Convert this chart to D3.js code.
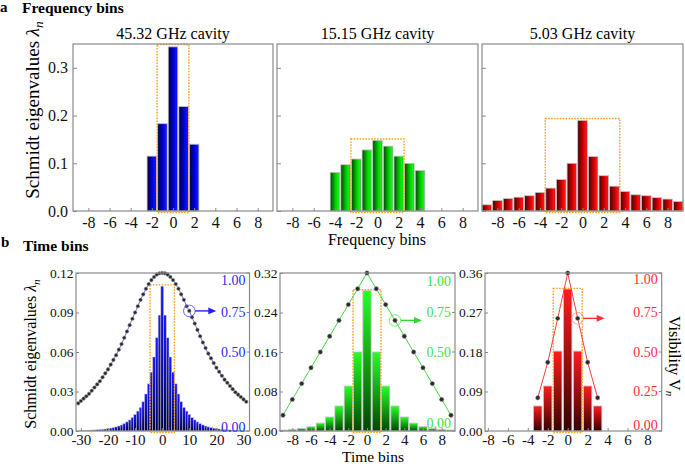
<!DOCTYPE html>
<html>
<head>
<meta charset="utf-8">
<script src="https://cdn.jsdelivr.net/npm/d3@7"></script>
<style>
  body { margin: 0; background: #fff; }
  svg text { font-family: "Liberation Serif", "Times New Roman", serif; }
</style>
</head>
<body>
<svg id="fig" width="685" height="464"></svg>
<script>
// ---- panel a: frequency bins ----
var cavities = ["45.32 GHz cavity", "15.15 GHz cavity", "5.03 GHz cavity"];
var freqTicks = [-8, -6, -4, -2, 0, 2, 4, 6, 8];
var freqYTicks = [0, 0.1, 0.2, 0.3];

var bins45 = [-2, -1, 0, 1, 2];
var eig45 = [0.115, 0.183, 0.344, 0.219, 0.140];
var bins15 = [-4, -3, -2, -1, 0, 1, 2, 3, 4];
var eig15 = [0.081, 0.097, 0.109, 0.128, 0.148, 0.136, 0.115, 0.100, 0.085];
var bins5 = [-9, -8, -7, -6, -5, -4, -3, -2, -1, 0, 1, 2, 3, 4, 5, 6, 7, 8, 9];
var eig5 = [0.013, 0.022, 0.026, 0.029, 0.032, 0.039, 0.048, 0.066, 0.100, 0.190,
            0.114, 0.074, 0.052, 0.041, 0.034, 0.032, 0.028, 0.025, 0.020];
// selected window: [from bin, to bin, top]
var freqBoxes = [[-1.5, 1.5, 0.349], [-2.5, 2.5, 0.151], [-3.5, 3.5, 0.194]];

// ---- panel b: time bins ----
var tBins1 = [-30, -29, -28, -27, -26, -25, -24, -23, -22, -21, -20, -19, -18, -17, -16, -15, -14, -13, -12, -11,
              -10, -9, -8, -7, -6, -5, -4, -3, -2, -1, 0, 1, 2, 3, 4, 5, 6, 7, 8, 9, 10,
              11, 12, 13, 14, 15, 16, 17, 18, 19, 20, 21, 22, 23, 24, 25, 26, 27, 28, 29, 30];
var tEig1 = [0.0004, 0.0004, 0.0005, 0.0006, 0.0007, 0.0008, 0.0009, 0.0011, 0.0013, 0.0015,
             0.0018, 0.0022, 0.0026, 0.0031, 0.0038, 0.0046, 0.0056, 0.0069, 0.0084, 0.0102,
             0.0125, 0.0151, 0.0179, 0.0222, 0.0281, 0.0358, 0.0447, 0.0562, 0.0708, 0.0880,
             0.1100,
             0.0880, 0.0708, 0.0562, 0.0447, 0.0358, 0.0281, 0.0222, 0.0179, 0.0151, 0.0125,
             0.0102, 0.0084, 0.0069, 0.0056, 0.0046, 0.0038, 0.0031, 0.0026, 0.0022, 0.0018,
             0.0015, 0.0013, 0.0011, 0.0009, 0.0008, 0.0007, 0.0006, 0.0005, 0.0004, 0.0004];
var vBins1 = [-31].concat(tBins1, [31]);
var vis1 = [0.175, 0.19, 0.205, 0.22, 0.235, 0.255, 0.275, 0.295, 0.315, 0.34, 0.365,
            0.39, 0.42, 0.45, 0.48, 0.515, 0.55, 0.59, 0.63, 0.67, 0.71,
            0.75, 0.79, 0.83, 0.865, 0.90, 0.93, 0.955, 0.975, 0.99, 0.998,
            1.00,
            0.998, 0.99, 0.975, 0.955, 0.93, 0.90, 0.865, 0.83, 0.79, 0.76,
            0.72, 0.68, 0.64, 0.60, 0.56, 0.525, 0.49, 0.46, 0.43, 0.40,
            0.375, 0.35, 0.325, 0.305, 0.285, 0.265, 0.245, 0.23, 0.215, 0.20, 0.185];

var tBins2 = [-9, -8, -7, -6, -5, -4, -3, -2, -1, 0, 1, 2, 3, 4, 5, 6, 7, 8, 9];
var tEig2 = [0.002, 0.0034, 0.0054, 0.0088, 0.016, 0.0284, 0.0507, 0.091, 0.160, 0.284,
             0.160, 0.091, 0.0507, 0.0284, 0.016, 0.0088, 0.0054, 0.0034, 0.002];
var vis2 = [0.10, 0.20, 0.30, 0.40, 0.50, 0.60, 0.70, 0.80, 0.90, 1.00,
            0.90, 0.80, 0.70, 0.60, 0.50, 0.40, 0.30, 0.20, 0.10];

var tBins3 = [-3, -2, -1, 0, 1, 2, 3];
var tEig3 = [0.057, 0.1025, 0.182, 0.3235, 0.182, 0.1025, 0.057];
var vis3 = [0.21, 0.435, 0.713, 1.00, 0.713, 0.435, 0.21];

var timeXTicks = [[-30, -20, -10, 0, 10, 20, 30], freqTicks, freqTicks];
var timeYTicks = [[0, 0.03, 0.06, 0.09, 0.12], [0, 0.08, 0.16, 0.24, 0.32], [0, 0.09, 0.18, 0.27, 0.36]];
var visTicks = [[0, 0.5, 0.75, 1], [0, 0.5, 0.75, 1], [0, 0.25, 0.5, 0.75, 1]];
var timeBoxes = [[-4.5, 4.5, 0.111], [-1.5, 1.5, 0.286], [-1.45, 1.45, 0.325]];
var markBins = [10, 3, 1];   // circled points

// ---- drawing ----
var serif = "Liberation Serif, Times New Roman, serif";
var svg = d3.select("#fig").attr("font-family", serif);
var defs = svg.append("defs");

function hGrad(id, c0, c1, c2, c3) {
  var g = defs.append("linearGradient").attr("id", id)
    .attr("x1", 0).attr("x2", 1).attr("y1", 0).attr("y2", 0);
  [[0, c0], [0.55, c1], [0.85, c2], [1, c3]].forEach(function(s) {
    g.append("stop").attr("offset", s[0]).attr("stop-color", s[1]);
  });
}
function vGrad(id, top, bottom) {
  var g = defs.append("linearGradient").attr("id", id)
    .attr("x1", 0).attr("x2", 0).attr("y1", 0).attr("y2", 1);
  g.append("stop").attr("offset", 0).attr("stop-color", top);
  g.append("stop").attr("offset", 1).attr("stop-color", bottom);
}
hGrad("gbH", "#000040", "#0000d4", "#1414ff", "#0606c4");
hGrad("ggH", "#004400", "#00cc00", "#16f016", "#00b000");
hGrad("grH", "#4a0000", "#cc0000", "#ff1414", "#c00000");
vGrad("gbV", "#1a1aff", "#00004a");
vGrad("ggV", "#26ff26", "#004600");
vGrad("grV", "#ff1c1c", "#360000");

var frameColor = "#8a8a8a",
    boxColor = "#f7a21b";

function styleAxis(g, size) {
  g.attr("font-family", serif).attr("font-size", size);
  g.select(".domain").remove();
  g.selectAll(".tick line").attr("stroke", frameColor);
  g.selectAll(".tick text").attr("fill", "#111");
}

function drawBox(g, x, y, b) {
  g.append("rect")
    .attr("x", x(b[0])).attr("y", y(b[2]))
    .attr("width", x(b[1]) - x(b[0]))
    .attr("height", y(0) - y(b[2]) + 1.5)
    .attr("fill", "none").attr("stroke", boxColor)
    .attr("stroke-width", 1.4).attr("stroke-dasharray", "1.6,1.3");
}

function drawFrame(g, x0, x1, y0, y1) {
  g.append("rect").attr("x", x0).attr("y", y0)
    .attr("width", x1 - x0).attr("height", y1 - y0)
    .attr("fill", "none").attr("stroke", frameColor).attr("stroke-width", 1.2);
}

// panel a
var aTop = 44, aBot = 211;
var aFrames = [[73, 273], [277, 478], [482, 683]];
var aY = d3.scaleLinear().domain([0, 0.35]).range([aBot, aTop]);
var aSeries = [
  {bins: bins45, vals: eig45, grad: "gbH"},
  {bins: bins15, vals: eig15, grad: "ggH"},
  {bins: bins5, vals: eig5, grad: "grH"}
];

aSeries.forEach(function(s, i) {
  var x = d3.scaleLinear().domain([-9.45, 9.45]).range(aFrames[i]);
  var g = svg.append("g");
  var bw = x(0.9) - x(0);

  g.selectAll(".bar")
    .data(s.bins.map(function(n, j) { return {n: n, v: s.vals[j]}; }))
    .enter().append("rect")
      .attr("class", "bar")
      .attr("x", function(d) { return x(d.n) - bw / 2; })
      .attr("width", bw)
      .attr("y", function(d) { return aY(d.v); })
      .attr("height", function(d) { return aY(0) - aY(d.v); })
      .attr("fill", "url(#" + s.grad + ")")
      .attr("stroke", "#c4c4c4").attr("stroke-width", 0.8);

  drawBox(g, x, aY, freqBoxes[i]);
  drawFrame(g, aFrames[i][0], aFrames[i][1], aTop, aBot);

  g.append("g").attr("transform", "translate(0," + aBot + ")")
    .call(d3.axisBottom(x).tickValues(freqTicks).tickSize(-3).tickPadding(6)
      .tickFormat(function(d) { return String(d); }))
    .call(styleAxis, 16);

  g.append("g").attr("transform", "translate(" + aFrames[i][0] + ",0)")
    .call(d3.axisLeft(aY).tickValues(freqYTicks).tickSize(-4).tickPadding(5)
      .tickFormat(i === 0 ? d3.format(".1f") : ""))
    .call(styleAxis, 16);

  g.append("text")
    .attr("x", (aFrames[i][0] + aFrames[i][1]) / 2).attr("y", 39)
    .attr("text-anchor", "middle").attr("font-size", 16)
    .text(cavities[i]);
});

// panel b
var bTop = 273, bBot = 431;
var bFrames = [[76, 249.5], [280, 455], [485, 661.7]];
var bXDomains = [[-31.8, 32.2], [-9.32, 9.43], [-8.29, 9.42]];
var bYMax = [0.12, 0.32, 0.36];
var bBarW = [1, 0.88, 0.84];
var dotR = [1.8, 2.2, 2.2];
var visY = d3.scaleLinear().domain([0, 1]).range([bBot, bTop]);
// label centres of the end ticks are pulled inside the frame
var bSeries = [
  {bins: tBins1, vals: tEig1, vbins: vBins1, vis: vis1, grad: "gbV",
   line: "#7272ff", label: "#2b2bff", ring: "#5858ff", arrow: "#1f1fff", nudge: [7.7, -4]},
  {bins: tBins2, vals: tEig2, vbins: tBins2, vis: vis2, grad: "ggV",
   line: "#3fdc3f", label: "#3ee43e", ring: "#6fe86f", arrow: "#30d830", nudge: [8.7, -7.7]},
  {bins: tBins3, vals: tEig3, vbins: tBins3, vis: vis3, grad: "grV",
   line: "#ff3d3d", label: "#ff2e2e", ring: "#ff8c8c", arrow: "#ff3030", nudge: [6.3, -6]}
];

bSeries.forEach(function(s, i) {
  var fr = bFrames[i];
  var x = d3.scaleLinear().domain(bXDomains[i]).range(fr);
  var y = d3.scaleLinear().domain([0, bYMax[i]]).range([bBot, bTop]);
  var g = svg.append("g");
  var bw = x(bBarW[i]) - x(0);

  g.selectAll(".bar")
    .data(s.bins.map(function(n, j) { return {n: n, v: s.vals[j]}; }))
    .enter().append("rect")
      .attr("class", "bar")
      .attr("x", function(d) { return x(d.n) - bw / 2; })
      .attr("width", bw)
      .attr("y", function(d) { return y(d.v); })
      .attr("height", function(d) { return y(0) - y(d.v); })
      .attr("fill", "url(#" + s.grad + ")")
      .attr("stroke", "#c4c4c4").attr("stroke-width", i === 0 ? 0.5 : 0.8);

  drawBox(g, x, y, timeBoxes[i]);

  var pts = s.vbins.map(function(n, j) { return [n, s.vis[j]]; });
  g.append("path")
    .datum(pts)
    .attr("d", d3.line().x(function(d) { return x(d[0]); }).y(function(d) { return visY(d[1]); }))
    .attr("fill", "none").attr("stroke", s.line).attr("stroke-width", 1);
  g.selectAll(".dot")
    .data(pts)
    .enter().append("circle")
      .attr("class", "dot")
      .attr("cx", function(d) { return x(d[0]); })
      .attr("cy", function(d) { return visY(d[1]); })
      .attr("r", dotR[i])
      .attr("fill", "#2a2a2a").attr("stroke", "#9a9a9a").attr("stroke-width", 0.5);

  // circled point with arrow to the right axis
  var mi = s.vbins.indexOf(markBins[i]);
  var cx = x(markBins[i]), cy = visY(s.vis[mi]);
  g.append("circle").attr("cx", cx).attr("cy", cy).attr("r", 5.8)
    .attr("fill", "none").attr("stroke", s.ring).attr("stroke-width", 0.9);
  g.append("line").attr("x1", cx + 5.8).attr("x2", cx + 21).attr("y1", cy).attr("y2", cy)
    .attr("stroke", s.arrow).attr("stroke-width", 1.4);
  g.append("path")
    .attr("d", "M" + (cx + 27) + "," + cy + "L" + (cx + 19) + "," + (cy - 3.3) + "L" + (cx + 19) + "," + (cy + 3.3) + "Z")
    .attr("fill", s.arrow);

  drawFrame(g, fr[0], fr[1], bTop, bBot);

  g.append("g").attr("transform", "translate(0," + bBot + ")")
    .call(d3.axisBottom(x).tickValues(timeXTicks[i]).tickSize(-3).tickPadding(3.5)
      .tickFormat(function(d) { return String(d); }))
    .call(styleAxis, 15);

  g.append("g").attr("transform", "translate(" + fr[0] + ",0)")
    .call(d3.axisLeft(y).tickValues(timeYTicks[i]).tickSize(-3).tickPadding(2.5)
      .tickFormat(d3.format(".2f")))
    .call(styleAxis, 13.5);

  // visibility axis drawn inside the frame
  var rg = g.append("g");
  visTicks[i].forEach(function(t) {
    rg.append("line").attr("x1", fr[1] - 3).attr("x2", fr[1])
      .attr("y1", visY(t)).attr("y2", visY(t)).attr("stroke", frameColor);
    var c = visY(t) + (t === 1 ? s.nudge[0] : 0) + (t === 0 ? s.nudge[1] : 0);
    rg.append("text")
      .attr("x", fr[1] - 4).attr("y", c + 4.6)
      .attr("text-anchor", "end").attr("font-size", 14).attr("fill", s.label)
      .text(d3.format(".2f")(t));
  });
});

// labels
function bold(x, y, txt, size) {
  svg.append("text").attr("x", x).attr("y", y).attr("font-weight", "bold")
    .attr("font-size", size).text(txt);
}
bold(0, 12, "a", 15);
bold(22, 13, "Frequency bins", 15.5);
bold(1, 247, "b", 15);
bold(23, 251, "Time bins", 15.5);

function schmidt(x, y, size) {
  var t = svg.append("text")
    .attr("transform", "translate(" + x + "," + y + ") rotate(-90)")
    .attr("text-anchor", "middle").attr("font-size", size);
  t.append("tspan").text("Schmidt eigenvalues ");
  t.append("tspan").attr("font-style", "italic").text("\u03bb");
  t.append("tspan").attr("font-style", "italic").attr("font-size", size * 0.7).attr("dy", size * 0.22).text("n");
}
schmidt(39, 110, 19);
schmidt(36, 354, 16);

svg.append("text").attr("x", 377).attr("y", 245).attr("text-anchor", "middle")
  .attr("font-size", 16).text("Frequency bins");
svg.append("text").attr("x", 373).attr("y", 462).attr("text-anchor", "middle")
  .attr("font-size", 15.5).text("Time bins");

var vt = svg.append("text")
  .attr("transform", "translate(669,356) rotate(90)")
  .attr("text-anchor", "middle").attr("font-size", 16);
vt.append("tspan").text("Visibility V");
vt.append("tspan").attr("font-style", "italic").attr("font-size", 11).attr("dy", 3.5).text("n");
</script>
</body>
</html>
